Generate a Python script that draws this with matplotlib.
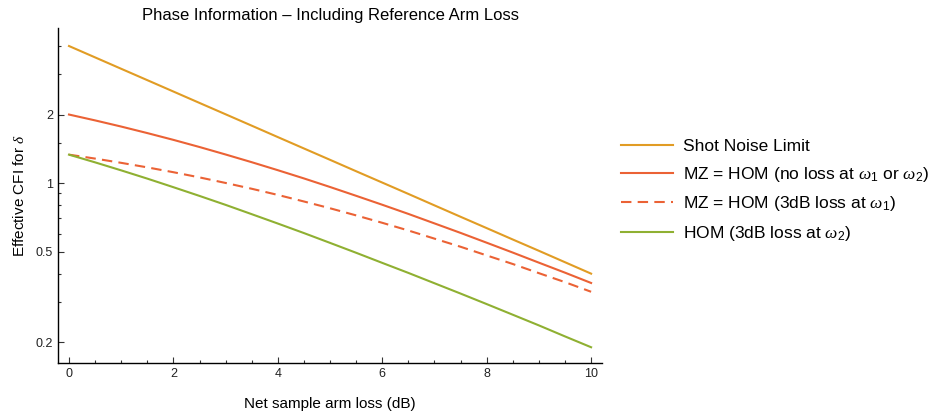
import numpy as np
import matplotlib.pyplot as plt
from matplotlib.ticker import FixedLocator, NullFormatter

plt.rcParams['font.family'] = ['Liberation Sans', 'DejaVu Sans']
plt.rcParams['mathtext.fontset'] = 'custom'
plt.rcParams['mathtext.it'] = 'Liberation Serif:italic'
plt.rcParams['mathtext.rm'] = 'Liberation Sans'

#%% data: net sample arm loss (dB) and effective CFI for each scheme
loss_db = [0, 0.5, 1, 1.5, 2, 2.5, 3, 3.5, 4, 4.5, 5,
           5.5, 6, 6.5, 7, 7.5, 8, 8.5, 9, 9.5, 10]
shot_noise = [4.000, 3.565, 3.177, 2.832, 2.524, 2.249, 2.005, 1.787, 1.592, 1.419, 1.265,
              1.127, 1.005, 0.896, 0.798, 0.711, 0.634, 0.565, 0.504, 0.449, 0.400]
mz_noloss = [2.000, 1.885, 1.771, 1.658, 1.548, 1.440, 1.335, 1.235, 1.139, 1.048, 0.961,
             0.879, 0.803, 0.732, 0.665, 0.604, 0.547, 0.495, 0.447, 0.404, 0.364]
mz_w1loss = [1.333, 1.281, 1.227, 1.172, 1.116, 1.059, 1.001, 0.944, 0.887, 0.830, 0.775,
             0.721, 0.669, 0.619, 0.570, 0.525, 0.481, 0.441, 0.402, 0.367, 0.333]
hom_w2loss = [1.333, 1.233, 1.137, 1.046, 0.959, 0.878, 0.802, 0.730, 0.664, 0.603, 0.546,
              0.494, 0.446, 0.403, 0.363, 0.327, 0.294, 0.264, 0.237, 0.212, 0.190]

labels = ['Shot Noise Limit',
          r'MZ = HOM (no loss at $\omega_1$ or $\omega_2$)',
          r'MZ = HOM (3dB loss at $\omega_1$)',
          r'HOM (3dB loss at $\omega_2$)']

#%% plot
fig = plt.figure(figsize=(9.33, 4.16), dpi=100)
ax = fig.add_axes([0.0622, 0.1274, 0.5831, 0.8053])

lw = 1.5
ax.plot(loss_db, shot_noise, color='#E19C24', lw=lw, label=labels[0])
ax.plot(loss_db, mz_noloss, color='#EB6235', lw=lw, label=labels[1])
ax.plot(loss_db, mz_w1loss, color='#EB6235', lw=lw, ls=(0, (5, 3)),
        label=labels[2])
ax.plot(loss_db, hom_w2loss, color='#8FB032', lw=lw, label=labels[3])

ax.set_yscale('log')
ax.set_xlim(-0.21, 10.21)
ax.set_ylim(0.162, 4.8)

ax.yaxis.set_major_locator(FixedLocator([0.2, 0.5, 1, 2]))
ax.yaxis.set_minor_locator(FixedLocator([0.3, 0.4, 0.6, 0.7, 0.8, 0.9, 1.5, 3, 4]))
ax.set_yticklabels(['0.2', '0.5', '1', '2'])
ax.yaxis.set_minor_formatter(NullFormatter())
ax.set_xticks([0, 2, 4, 6, 8, 10])
ax.set_xticks(np.arange(0, 10.01, 0.5), minor=True)

ax.tick_params(which='both', direction='in', labelsize=9, width=0.8,
               color='#333333', labelcolor='#222222')
ax.tick_params(which='major', length=4)
ax.tick_params(which='minor', length=2.5)

for s in ['top', 'right']:
    ax.spines[s].set_visible(False)
for s in ['left', 'bottom']:
    ax.spines[s].set_linewidth(1.0)

ax.set_title('Phase Information \u2013 Including Reference Arm Loss',
             fontsize=12, pad=6)
ax.set_xlabel('Net sample arm loss (dB)', fontsize=11, labelpad=12)
ax.set_ylabel(r'Effective CFI for $\delta$', fontsize=11, labelpad=6)

fig.legend(loc='center left', bbox_to_anchor=(0.6566, 0.541),
           frameon=False, fontsize=12.5, handlelength=3.0,
           handletextpad=0.55, labelspacing=0.6, borderpad=0)

fig.savefig('out.png', dpi=100)
